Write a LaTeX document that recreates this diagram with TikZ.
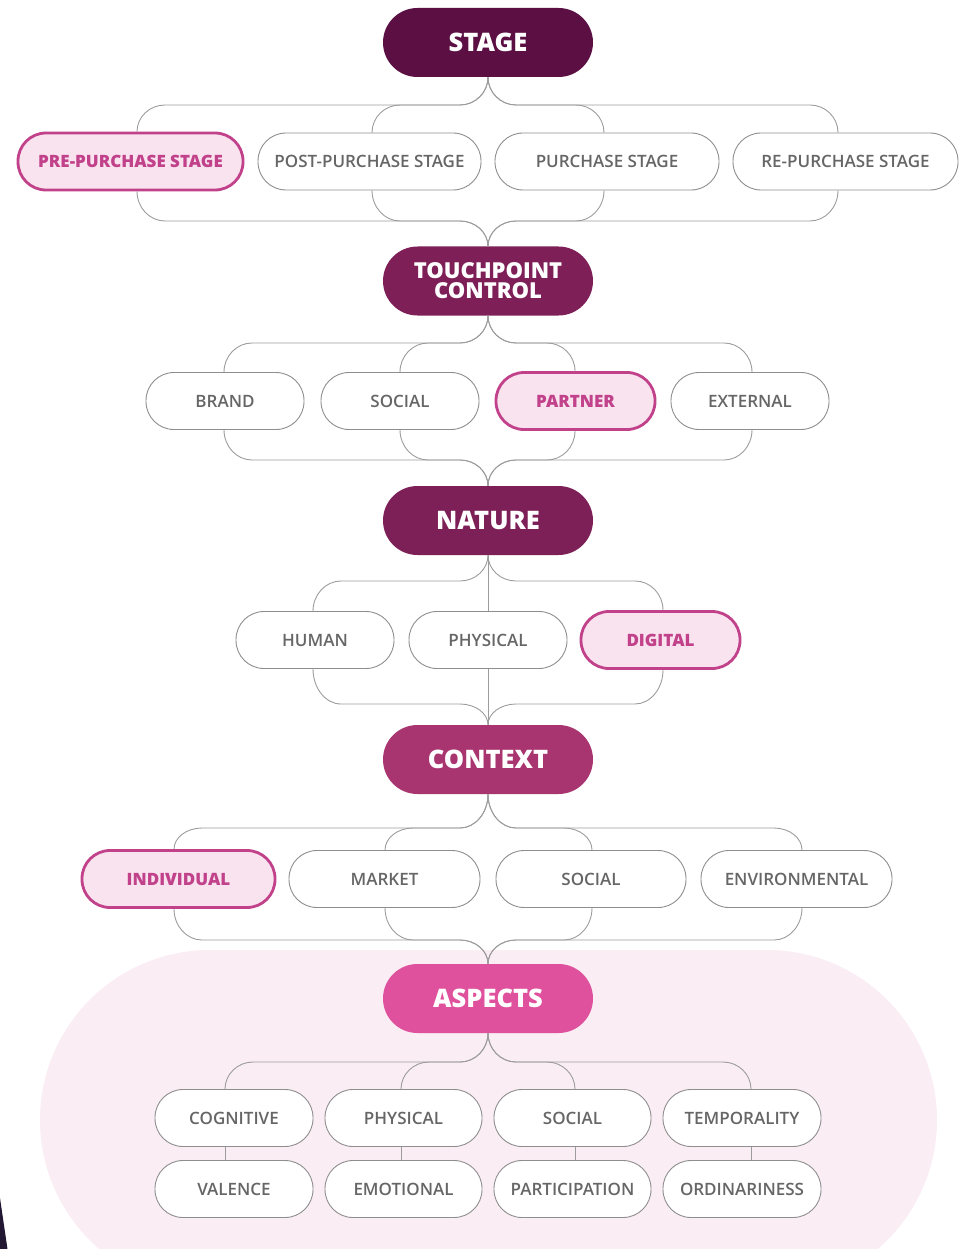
\documentclass[tikz,border=0pt]{standalone}
\usepackage{fontspec}
\setmainfont{Open Sans}
\newfontfamily\semib{Open Sans Semibold}
\newfontfamily\xbold{Open Sans Extrabold}
\usetikzlibrary{calc}

\definecolor{stagec}{HTML}{5B0F42}
\definecolor{touchc}{HTML}{7E1F57}
\definecolor{naturec}{HTML}{7E2058}
\definecolor{contextc}{HTML}{A8356F}
\definecolor{aspectc}{HTML}{DF519C}
\definecolor{hlfill}{HTML}{F9E3EF}
\definecolor{hlline}{HTML}{C1428A}
\definecolor{bgpink}{HTML}{FAEDF4}
\definecolor{linkgray}{HTML}{9C9C9C}
\definecolor{nodegray}{HTML}{8E8E8E}
\definecolor{txtgray}{HTML}{666666}
\definecolor{navy}{HTML}{221833}

\tikzset{
  head/.style={fill=#1, rounded corners=34.5pt, minimum width=210pt,
    minimum height=69pt, inner sep=0pt, text=white, align=center,
    font=\xbold\fontsize{25.5}{25.5}\selectfont},
  opt/.style={draw=nodegray, line width=0.9pt, fill=white, rounded corners=28pt,
    minimum height=57pt, inner sep=0pt, text=txtgray,
    font=\semib\fontsize{17}{17}\selectfont},
  pick/.style={opt, draw=hlline, line width=2.8pt, fill=hlfill, text=hlline,
    font=\xbold\fontsize{17}{17}\selectfont},
  link/.style={draw=linkgray, line width=0.9pt},
}

% curved elbow: from #1 down to the run at height #3, across, then down to #2;
% #4 is the direction of travel (1 = right, -1 = left)
\newcommand\elbow[4]{%
  \draw[link] let \p1=(#1), \p2=(#2) in
    (\p1) .. controls +(0,{0.55*((#3pt)-(\y1))}) and +({-(#4)*15.4pt},0) ..
    ({\x1+(#4)*28pt},#3pt) -- ({\x2-(#4)*28pt},#3pt)
    .. controls +({(#4)*15.4pt},0) and +(0,{0.55*((#3pt)-(\y2))}) .. (\p2);}

\begin{document}
\begin{tikzpicture}[x=1pt,y=1pt]
\useasboundingbox (0,0) rectangle (962,-1249);

% soft backdrop behind the aspects group
\begin{scope}
  \clip (0,0) rectangle (962,-1249);
  \fill[bgpink, rounded corners=170pt] (40,-950) rectangle (937,-1290);
  \fill[navy] (0,-1198) -- (7.5,-1249) -- (0,-1249) -- cycle;
\end{scope}

% headings
\node[head=stagec]   (stage)   at (488,-42.5)  {STAGE};
\node[head=touchc, font=\xbold\fontsize{22}{20}\selectfont]
                     (touch)   at (488,-281)   {TOUCHPOINT\\CONTROL};
\node[head=naturec]  (nature)  at (488,-520.5) {NATURE};
\node[head=contextc] (context) at (488,-759.5) {CONTEXT};
\node[head=aspectc]  (aspects) at (488,-998.5) {ASPECTS};

% stage options
\node[pick, minimum width=225pt] (pre)   at (130.5,-161.5) {PRE-PURCHASE STAGE};
\node[opt,  minimum width=223pt] (post)  at (369.5,-161.5) {POST-PURCHASE STAGE};
\node[opt,  minimum width=224pt] (purch) at (607,-161.5)   {PURCHASE STAGE};
\node[opt,  minimum width=225pt] (repur) at (845.5,-161.5) {RE-PURCHASE STAGE};

% touchpoint control options
\node[opt,  minimum width=158pt] (brand)    at (225,-401)   {BRAND};
\node[opt,  minimum width=158pt] (socialA)  at (400,-401)   {SOCIAL};
\node[pick, minimum width=159pt] (partner)  at (575.5,-401) {PARTNER};
\node[opt,  minimum width=158pt] (external) at (750,-401)   {EXTERNAL};

% nature options
\node[opt,  minimum width=158pt] (human)     at (315,-640)   {HUMAN};
\node[opt,  minimum width=158pt] (physicalA) at (488,-640)   {PHYSICAL};
\node[pick, minimum width=159pt] (digital)   at (660.5,-640) {DIGITAL};

% context options
\node[pick, minimum width=193pt] (indiv)   at (178.5,-879) {INDIVIDUAL};
\node[opt,  minimum width=191pt] (market)  at (384.5,-879) {MARKET};
\node[opt,  minimum width=190pt] (socialB) at (591,-879)   {SOCIAL};
\node[opt,  minimum width=191pt] (environ) at (796.5,-879) {ENVIRONMENTAL};

% aspects, two rows
\node[opt, minimum width=158pt] (cognitive) at (234,-1118)   {COGNITIVE};
\node[opt, minimum width=157pt] (physicalB) at (403.5,-1118) {PHYSICAL};
\node[opt, minimum width=157pt] (socialC)   at (572.5,-1118) {SOCIAL};
\node[opt, minimum width=158pt] (temporal)  at (742,-1118)   {TEMPORALITY};
\node[opt, minimum width=158pt] (valence)   at (234,-1189)   {VALENCE};
\node[opt, minimum width=157pt] (emotional) at (403.5,-1189) {EMOTIONAL};
\node[opt, minimum width=157pt] (particip)  at (572.5,-1189) {PARTICIPATION};
\node[opt, minimum width=158pt] (ordinary)  at (742,-1189)   {ORDINARINESS};

% stage -> options -> touchpoint control
\elbow{stage.south}{[xshift=6.5pt]pre.north}{-105}{-1}
\elbow{stage.south}{[xshift=2.5pt]post.north}{-105}{-1}
\elbow{stage.south}{[xshift=-3pt]purch.north}{-105}{1}
\elbow{stage.south}{[xshift=-7.5pt]repur.north}{-105}{1}
\elbow{[xshift=6.5pt]pre.south}{touch.north}{-221}{1}
\elbow{[xshift=2.5pt]post.south}{touch.north}{-221}{1}
\elbow{[xshift=-3pt]purch.south}{touch.north}{-221}{-1}
\elbow{[xshift=-7.5pt]repur.south}{touch.north}{-221}{-1}

% touchpoint control -> options -> nature
\elbow{touch.south}{[xshift=-1pt]brand.north}{-343}{-1}
\elbow{touch.south}{socialA.north}{-343}{-1}
\elbow{touch.south}{[xshift=-0.5pt]partner.north}{-343}{1}
\elbow{touch.south}{[xshift=2pt]external.north}{-343}{1}
\elbow{[xshift=-1pt]brand.south}{nature.north}{-460}{1}
\elbow{socialA.south}{nature.north}{-460}{1}
\elbow{[xshift=-0.5pt]partner.south}{nature.north}{-460}{-1}
\elbow{[xshift=2pt]external.south}{nature.north}{-460}{-1}

% nature -> options -> context
\elbow{nature.south}{[xshift=-2pt]human.north}{-581}{-1}
\draw[link] (nature.south) -- (physicalA.north);
\elbow{nature.south}{[xshift=2.5pt]digital.north}{-581}{1}
\elbow{[xshift=-2pt]human.south}{context.north}{-704}{1}
\draw[link] (physicalA.south) -- (context.north);
\elbow{[xshift=2.5pt]digital.south}{context.north}{-704}{-1}

% context -> options -> aspects
\elbow{context.south}{[xshift=-4.5pt]indiv.north}{-828}{-1}
\elbow{context.south}{[xshift=0.5pt]market.north}{-828}{-1}
\elbow{context.south}{[xshift=1pt]socialB.north}{-828}{1}
\elbow{context.south}{[xshift=5.5pt]environ.north}{-828}{1}
\elbow{[xshift=-4.5pt]indiv.south}{aspects.north}{-940}{1}
\elbow{[xshift=0.5pt]market.south}{aspects.north}{-940}{1}
\elbow{[xshift=1pt]socialB.south}{aspects.north}{-940}{-1}
\elbow{[xshift=5.5pt]environ.south}{aspects.north}{-940}{-1}

% aspects -> first row -> second row
\elbow{aspects.south}{[xshift=-9pt]cognitive.north}{-1062}{-1}
\elbow{aspects.south}{[xshift=-2.5pt]physicalB.north}{-1062}{-1}
\elbow{aspects.south}{[xshift=2.5pt]socialC.north}{-1062}{1}
\elbow{aspects.south}{[xshift=9pt]temporal.north}{-1062}{1}
\draw[link] ([xshift=-9pt]cognitive.south) -- ([xshift=-9pt]valence.north);
\draw[link] ([xshift=-2.5pt]physicalB.south) -- ([xshift=-2.5pt]emotional.north);
\draw[link] ([xshift=2.5pt]socialC.south) -- ([xshift=2.5pt]particip.north);
\draw[link] ([xshift=9pt]temporal.south) -- ([xshift=9pt]ordinary.north);
\end{tikzpicture}
\end{document}
